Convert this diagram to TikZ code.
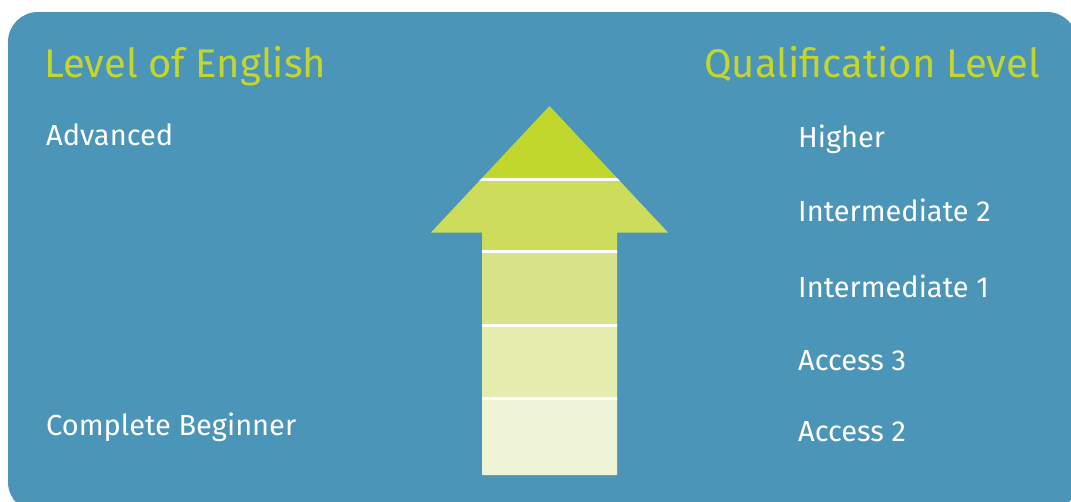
\documentclass[tikz,border=0pt]{standalone}
\usepackage{fontspec}
\setmainfont{Fira Sans}
\definecolor{bgblue}{HTML}{4B95B9}
\definecolor{titlegreen}{HTML}{C4D62E}
\definecolor{bandA}{HTML}{C1D72E}
\definecolor{bandB}{HTML}{CDDC5A}
\definecolor{bandC}{HTML}{D9E389}
\definecolor{bandD}{HTML}{E4ECAE}
\definecolor{bandE}{HTML}{F0F4D7}
\tikzset{
  title/.style={anchor=base west, inner sep=0pt, text=titlegreen, font=\fontsize{40}{40}\selectfont},
  titler/.style={title, anchor=base east},
  lbl/.style={anchor=base west, inner sep=0pt, text=white, font=\fontsize{29}{29}\selectfont},
  sep/.style={white, line width=3pt}
}
\begin{document}
\begin{tikzpicture}[x=1pt,y=-1pt]
\useasboundingbox (0,0) rectangle (1071,501);
\fill[white] (0,0) rectangle (1071,501);
\begin{scope}
\clip (0,0) rectangle (1071,501);
\fill[bgblue, rounded corners=30pt] (8,12) rectangle (1077,512);
\end{scope}
% arrow
\def\arrowpath{(549.5,106) -- (668,232.5) -- (617,232.5) -- (617,475) -- (482,475) -- (482,232.5) -- (431,232.5) -- cycle}
\begin{scope}
\clip \arrowpath;
\fill[bandA] (420,100) rectangle (680,179.5);
\fill[bandB] (420,179.5) rectangle (680,251.5);
\fill[bandC] (420,251.5) rectangle (680,325);
\fill[bandD] (420,325) rectangle (680,398);
\fill[bandE] (420,398) rectangle (680,480);
\draw[sep] (420,179.5) -- (680,179.5);
\draw[sep] (420,251.5) -- (680,251.5);
\draw[sep] (420,325) -- (680,325);
\draw[sep] (420,398) -- (680,398);
\end{scope}
% texts
\node[title] (tl) at (44,77) {Level of English};
\node[titler] (tr) at (1040,77) {Qualification Level};
\node[lbl] (adv) at (46,145.5) {Advanced};
\node[lbl] (beg) at (46,435) {Complete Beginner};
\node[lbl] (hi) at (798,147) {Higher};
\node[lbl] (i2) at (798,221.5) {Intermediate 2};
\node[lbl] (i1) at (798,297) {Intermediate 1};
\node[lbl] (a3) at (798,370.5) {Access 3};
\node[lbl] (a2) at (798,441.5) {Access 2};
\end{tikzpicture}
\end{document}
